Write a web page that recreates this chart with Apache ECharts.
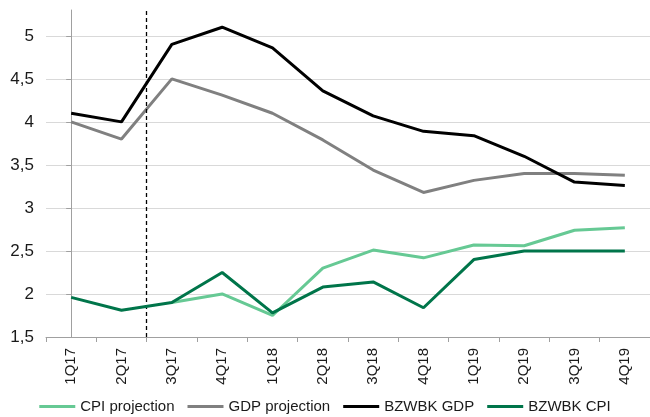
<!DOCTYPE html>
<html>
<head>
<meta charset="utf-8">
<style>html,body{margin:0;padding:0;background:#fff;}#chart{width:650px;height:417px;}</style>
<script src="https://cdn.jsdelivr.net/npm/echarts@6/dist/echarts.min.js"></script>
</head>
<body>
<div id="chart"></div>
<script>
const categories = ['1Q17','2Q17','3Q17','4Q17','1Q18','2Q18','3Q18','4Q18','1Q19','2Q19','3Q19','4Q19'];
const cpiProjection = ['-','-',1.9,2.0,1.75,2.3,2.51,2.42,2.57,2.56,2.74,2.77];
const gdpProjection = [4.0,3.8,4.5,4.31,4.1,3.79,3.44,3.18,3.32,3.4,3.4,3.38];
const bzwbkGdp = [4.1,4.0,4.9,5.1,4.86,4.36,4.07,3.89,3.84,3.6,3.3,3.26];
const bzwbkCpi = [1.96,1.81,1.9,2.25,1.78,2.08,2.14,1.84,2.4,2.5,2.5,2.5];
const projectionStart = 1.5; // boundary between 2Q17 and 3Q17 (category index units)

const font = 'Liberation Sans, Arial, sans-serif';
const chart = echarts.init(document.getElementById('chart'), null, {renderer:'canvas'});
function line(name, data, color, z) {
  return {
    name, type:'line', data, symbol:'none', z,
    lineStyle:{color, width:3}, itemStyle:{color},
    connectNulls:false, animation:false
  };
}
const s1 = line('CPI projection', cpiProjection, '#66c994', 2);
const s2 = line('GDP projection', gdpProjection, '#808080', 3);
const s3 = line('BZWBK GDP', bzwbkGdp, '#000000', 4);
const s4 = line('BZWBK CPI', bzwbkCpi, '#00754a', 5);
const divider = {
  name:'divider', type:'line', xAxisIndex:1, data:[[projectionStart, null]],
  symbol:'none', lineStyle:{opacity:0}, silent:true, z:6,
  markLine:{
    silent:true, symbol:['none','none'], label:{show:false},
    lineStyle:{color:'#000', type:[4,3], width:1.3},
    data:[{xAxis: projectionStart}]
  }
};
chart.setOption({
  animation:false,
  grid:{left:46, right:-8, top:10, bottom:80, containLabel:false},
  legend:{
    bottom:-2, left:'center', itemWidth:36, itemHeight:3, itemGap:13, icon:'rect',
    textStyle:{fontFamily:font, fontSize:15, color:'#1a1a1a'},
    data:['CPI projection','GDP projection','BZWBK GDP','BZWBK CPI']
  },
  xAxis:[{
    type:'category', data:categories, boundaryGap:true,
    axisLine:{lineStyle:{color:'#a0a0a0', width:1}},
    axisTick:{show:true, length:5, inside:false, lineStyle:{color:'#a0a0a0'}},
    axisLabel:{rotate:90, margin:11, fontFamily:font, fontSize:15, color:'#1a1a1a', interval:0}
  },{
    type:'value', min:-0.5, max:categories.length - 0.5, show:false
  }],
  yAxis:{
    type:'value', min:1.5, max:5.3, interval:0.5,
    axisLine:{show:true, lineStyle:{color:'#a0a0a0', width:1}},
    axisTick:{show:true, length:5, lineStyle:{color:'#a0a0a0'}},
    axisLabel:{showMaxLabel:false, margin:12, fontFamily:font, fontSize:17, color:'#1a1a1a',
      formatter:v => String(v).replace('.', ',')},
    splitLine:{show:true, showMaxLine:false, lineStyle:{color:'#d9d9d9', width:1}}
  },
  series:[s1,s2,s3,s4,divider]
});
</script>
</body>
</html>
